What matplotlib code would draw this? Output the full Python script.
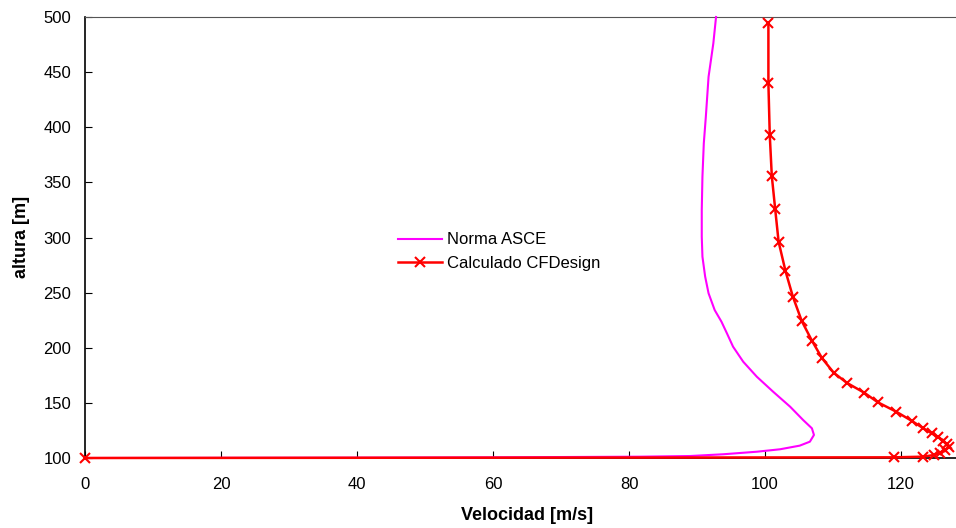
import matplotlib
matplotlib.use("Agg")
import matplotlib.pyplot as plt

plt.rcParams["font.family"] = ["Liberation Sans", "DejaVu Sans"]

# Norma ASCE profile (velocity, height)
asce_v = [0.0, 40.0, 60.0, 81.6, 89.0, 93.9, 98.8, 102.2, 105.1, 106.6, 107.2, 106.9,
          105.6, 103.7, 101.2, 98.8, 96.8, 95.3, 94.4, 93.6, 92.6, 91.7, 91.2, 90.8,
          90.7, 90.7, 90.8, 91.0, 91.3, 91.7, 92.4, 92.8]
asce_h = [100.0, 100.3, 100.6, 101.2, 101.8, 103.4, 105.7, 107.9, 111.2, 114.8, 120.9, 126.9,
          134.5, 146.5, 160.1, 173.7, 187.3, 201.0, 213.1, 223.6, 234.2, 249.4, 264.5, 282.6,
          300.7, 324.9, 355.2, 385.4, 409.6, 445.8, 476.0, 500.0]

# Calculado CFDesign profile (velocity, height)
cfd_v = [0.0, 118.9, 123.3, 124.8, 125.7, 126.5, 127.0, 126.7, 126.2, 125.5, 124.5,
         123.3, 121.6, 119.3, 116.6, 114.6, 112.0, 110.1, 108.4, 106.9, 105.4, 104.1,
         103.0, 102.0, 101.5, 101.0, 100.7, 100.5, 100.5]
cfd_h = [100.0, 100.6, 101.2, 102.7, 104.8, 107.3, 109.7, 112.7, 115.7, 118.8, 122.4,
         126.9, 133.6, 142.0, 150.5, 159.2, 168.3, 177.4, 190.4, 206.4, 224.3, 246.3,
         269.9, 296.2, 325.6, 355.8, 393.0, 439.8, 494.8]

x_ticks = [0, 20, 40, 60, 80, 100, 120]
y_ticks = [100, 150, 200, 250, 300, 350, 400, 450, 500]

fig = plt.figure(figsize=(9.56, 5.28), dpi=100)
ax = fig.add_axes([85 / 956, 70 / 528, 884 / 956, 441 / 528])

ax.plot(asce_v, asce_h, color="#ff00ff", lw=1.5, label="Norma ASCE", clip_on=False, zorder=3)
ax.plot(cfd_v, cfd_h, color="red", lw=1.8, marker="x", ms=7, mew=1.5,
        label="Calculado CFDesign", clip_on=False, zorder=4)

ax.set_xlim(0, 130)
ax.set_ylim(100, 500)
ax.set_xticks(x_ticks)
ax.set_yticks(y_ticks)
ax.tick_params(axis="both", direction="in", length=5, labelsize=12)
ax.tick_params(axis="x", pad=14)
ax.tick_params(axis="y", pad=10)

ax.spines["right"].set_visible(False)
ax.spines["top"].set_color("#555555")
ax.spines["left"].set_linewidth(1.2)
ax.spines["bottom"].set_linewidth(1.2)

fig.text(527 / 956, 1 - 515 / 528, "Velocidad [m/s]", fontsize=13, fontweight="bold",
         ha="center", va="center")
fig.text(22 / 956, 1 - 237 / 528, "altura [m]", fontsize=13, fontweight="bold",
         ha="center", va="center", rotation=90)

ax.legend(loc="upper left", bbox_to_anchor=(390 / 956, 1 - 224 / 528),
          bbox_transform=fig.transFigure, frameon=False, fontsize=12,
          handlelength=2.6, handletextpad=0.3, borderpad=0, labelspacing=0.5)

fig.savefig("out.png", dpi=100)
